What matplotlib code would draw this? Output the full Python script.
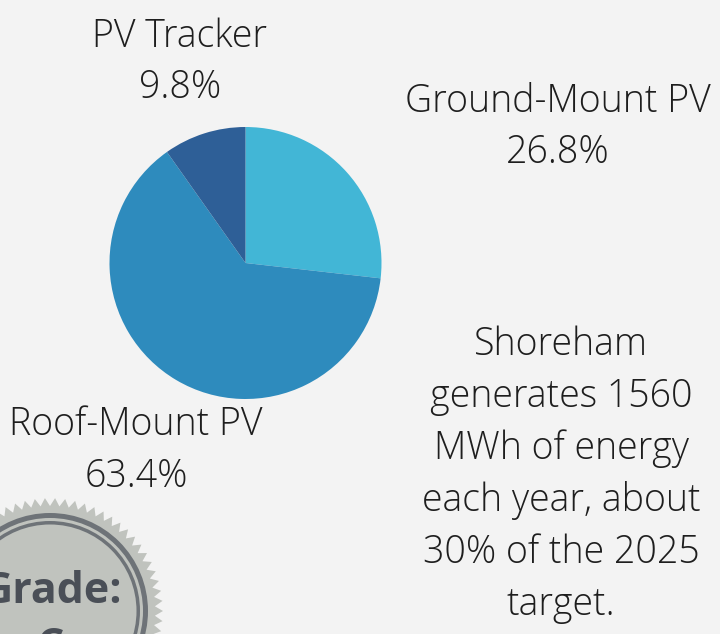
import numpy as np
import matplotlib
matplotlib.use("Agg")
import matplotlib.pyplot as plt
from matplotlib.patches import Circle, Polygon

# Data
categories = ["Ground-Mount PV", "Roof-Mount PV", "PV Tracker"]
shares = [26.8, 63.4, 9.8]
colors = ["#42b6d6", "#2e8bbd", "#2e5f97"]
note_lines = ["Shoreham", "generates 1560", "MWh of energy",
              "each year, about", "30% of the 2025", "target."]
grade_lines = ["Grade:", "C"]

W, H = 720, 634
bg = "#f3f3f3"
fig = plt.figure(figsize=(W / 100, H / 100), dpi=100, facecolor=bg)
ax = fig.add_axes([0, 0, 1, 1])
ax.set_facecolor(bg)

def Y(y):
    return H - y

# Pie
ax.pie(shares, colors=colors, startangle=90, counterclock=False,
       center=(245.5, Y(263)), radius=136, frame=True,
       wedgeprops=dict(linewidth=0))
ax.set_xlim(0, W)
ax.set_ylim(0, H)
ax.set_aspect("equal")
ax.axis("off")

font = "Open Sans"
tc = "#1e1e1e"
fs = 27

label_pos = {
    "Ground-Mount PV": (558, 112, 163),
    "Roof-Mount PV": (136, 435, 487),
    "PV Tracker": (180, 47, 98),
}
for cat, val in zip(categories, shares):
    x, y1, y2 = label_pos[cat]
    ax.text(x, Y(y1), cat, ha="center", va="baseline", fontsize=fs,
            family=font, fontweight="light", color=tc)
    ax.text(x, Y(y2), f"{val}%", ha="center", va="baseline", fontsize=fs,
            family=font, fontweight="light", color=tc)

for i, line in enumerate(note_lines):
    ax.text(561, Y(355 + i * 52), line, ha="center", va="baseline",
            fontsize=fs, family=font, fontweight="light", color=tc)

# Seal
cx, cy = 50, Y(611)
n_teeth = 70
ang = np.linspace(0, 2 * np.pi, 2 * n_teeth, endpoint=False)
rad = np.where(np.arange(2 * n_teeth) % 2 == 0, 113, 105)
pts = np.column_stack([cx + rad * np.cos(ang), cy + rad * np.sin(ang)])
ax.add_patch(Polygon(pts, closed=True, facecolor="#c0c3be", edgecolor="none"))
ax.add_patch(Circle((cx, cy), 98, facecolor="#6e7378", edgecolor="none"))
ax.add_patch(Circle((cx, cy), 93, facecolor="#c0c3be", edgecolor="none"))
ax.add_patch(Circle((cx, cy), 90, facecolor="#6e7378", edgecolor="none"))
ax.add_patch(Circle((cx, cy), 86.5, facecolor="#c0c3be", edgecolor="none"))

ax.text(52, Y(603), grade_lines[0], ha="center", va="baseline", fontsize=31,
        family=font, fontweight="bold", color="#4a4f57")
ax.text(50, Y(659), grade_lines[1], ha="center", va="baseline", fontsize=31,
        family=font, fontweight="bold", color="#4a4f57")

fig.savefig("out.png", dpi=100, facecolor=bg)
